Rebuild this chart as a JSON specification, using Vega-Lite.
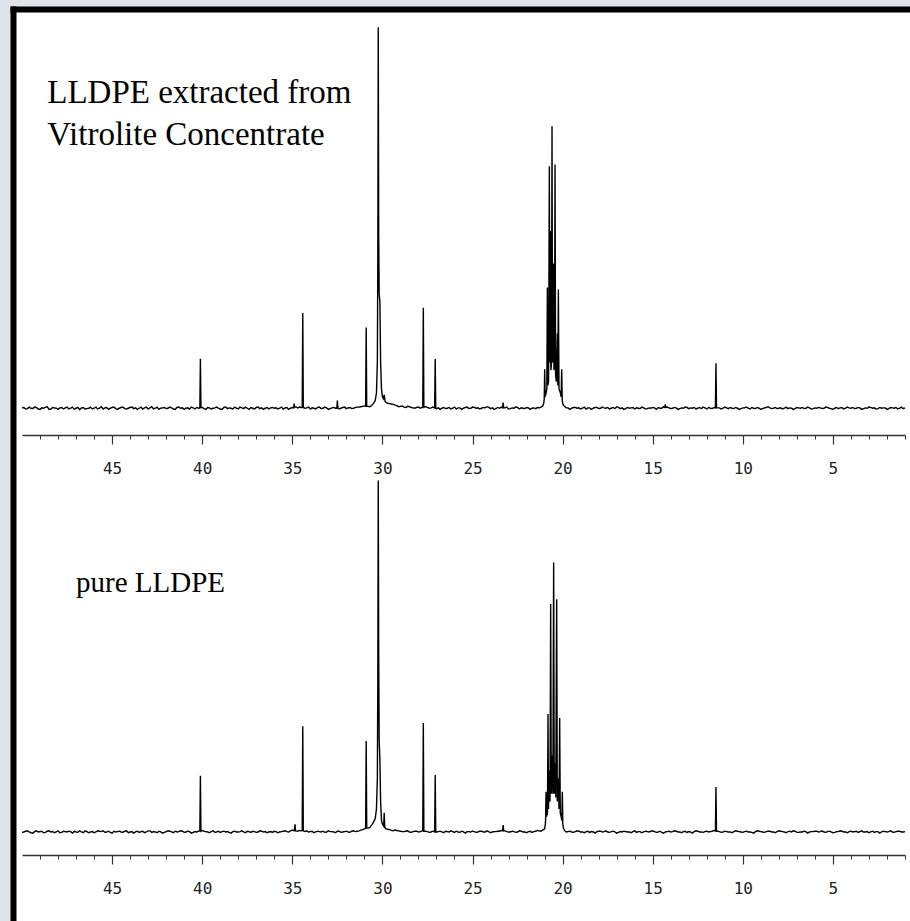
{
"$schema":"https://vega.github.io/schema/vega-lite/v6.json",
"width":897,"height":912,
"autosize":{"type":"none"},
"padding":{"left":13,"top":9,"right":0,"bottom":0},
"background":"#dde5ea",
"config":{"view":{"stroke":null,"fill":"white"},"axis":{"grid":false,"title":null}},
"datasets":{
"top":[{"x":50,"y":0.1},{"x":49.8,"y":-0.2},{"x":49.6,"y":0.3},{"x":49.4,"y":-0.1},{"x":49.2,"y":0.2},{"x":49,"y":-0.3},{"x":48.8,"y":0},{"x":48.6,"y":0.4},{"x":48.4,"y":-0.2},{"x":48.2,"y":0.1},
{"x":48,"y":-0.3},{"x":47.8,"y":0.2},{"x":47.6,"y":0.1},{"x":47.4,"y":-0.2},{"x":47.2,"y":0.3},{"x":47,"y":0},{"x":46.8,"y":-0.4},{"x":46.6,"y":0.2},{"x":46.4,"y":-0.1},{"x":46.2,"y":0.3},
{"x":46,"y":0},{"x":45.8,"y":-0.2},{"x":45.6,"y":0.4},{"x":45.4,"y":0.1},{"x":45.2,"y":-0.3},{"x":45,"y":0.2},{"x":44.8,"y":-0.1},{"x":44.6,"y":0},{"x":44.4,"y":0.3},{"x":44.2,"y":-0.2},
{"x":44,"y":0.2},{"x":43.8,"y":-0.1},{"x":43.6,"y":-0.3},{"x":43.4,"y":0.3},{"x":43.2,"y":0.1},{"x":43,"y":-0.2},{"x":42.8,"y":0.4},{"x":42.6,"y":0},{"x":42.4,"y":-0.3},{"x":42.2,"y":0.1},
{"x":42,"y":-0.1},{"x":41.8,"y":0.3},{"x":41.6,"y":-0.2},{"x":41.4,"y":0.2},{"x":41.2,"y":0},{"x":41,"y":-0.3},{"x":40.8,"y":0.1},{"x":40.6,"y":0.3},{"x":40.4,"y":-0.2},{"x":40.2,"y":0},
{"x":40.13,"y":0.1},{"x":40.1,"y":13},{"x":40.07,"y":0.2},
{"x":40,"y":0.2},{"x":39.8,"y":-0.3},{"x":39.6,"y":0.1},{"x":39.4,"y":0},{"x":39.2,"y":0.3},{"x":39,"y":-0.2},{"x":38.8,"y":0.2},{"x":38.6,"y":-0.1},{"x":38.4,"y":0},{"x":38.2,"y":0.3},
{"x":38,"y":-0.2},{"x":37.8,"y":0.1},{"x":37.6,"y":0.3},{"x":37.4,"y":-0.3},{"x":37.2,"y":0},{"x":37,"y":0.2},{"x":36.8,"y":-0.1},{"x":36.6,"y":-0.3},{"x":36.4,"y":0.2},{"x":36.2,"y":0.1},
{"x":36,"y":0},{"x":35.8,"y":-0.2},{"x":35.6,"y":0.3},{"x":35.4,"y":0.1},{"x":35.2,"y":-0.3},{"x":35,"y":0.2},{"x":34.93,"y":0.1},{"x":34.9,"y":1.2},{"x":34.87,"y":0.2},{"x":34.8,"y":0.4},{"x":34.6,"y":0.3},{"x":34.45,"y":0.2},{"x":34.42,"y":25},{"x":34.39,"y":0.2},{"x":34.2,"y":0.1},
{"x":34,"y":-0.2},{"x":33.8,"y":0},{"x":33.6,"y":0.2},{"x":33.4,"y":-0.1},{"x":33.2,"y":0.3},{"x":33,"y":-0.3},{"x":32.8,"y":0.1},{"x":32.6,"y":0},{"x":32.53,"y":0},{"x":32.5,"y":2},{"x":32.47,"y":0.1},{"x":32.4,"y":-0.2},{"x":32.2,"y":0.2},
{"x":32,"y":-0.1},{"x":31.8,"y":0.2},{"x":31.6,"y":0},{"x":31.4,"y":0.3},{"x":31.2,"y":0.4},{"x":31,"y":0.6},{"x":30.93,"y":0.5},{"x":30.9,"y":21.2},{"x":30.87,"y":0.5},{"x":30.8,"y":0.5},
{"x":30.7,"y":0.4},{"x":30.6,"y":0.7},{"x":30.5,"y":1.2},{"x":30.4,"y":2},{"x":30.33,"y":4},{"x":30.28,"y":12},{"x":30.255,"y":40},{"x":30.23,"y":100},{"x":30.205,"y":45},{"x":30.18,"y":30},{"x":30.14,"y":28},{"x":30.1,"y":12},{"x":30.05,"y":5},{"x":30,"y":3},{"x":29.95,"y":2.5},{"x":29.9,"y":3.5},{"x":29.85,"y":1.8},{"x":29.8,"y":1.5},{"x":29.6,"y":1.2},{"x":29.4,"y":1},{"x":29.2,"y":0.7},{"x":29,"y":0.5},
{"x":28.8,"y":0.3},{"x":28.6,"y":0.5},{"x":28.4,"y":0.2},{"x":28.2,"y":0},{"x":28,"y":0.3},{"x":27.8,"y":0.2},{"x":27.76,"y":0.2},{"x":27.73,"y":26.4},{"x":27.7,"y":0.3},{"x":27.6,"y":0.4},{"x":27.4,"y":0},{"x":27.2,"y":0.3},{"x":27.1,"y":0.1},{"x":27.07,"y":12.9},{"x":27.04,"y":0.1},{"x":27,"y":-0.1},
{"x":26.8,"y":-0.3},{"x":26.6,"y":0.2},{"x":26.4,"y":0},{"x":26.2,"y":-0.2},{"x":26,"y":0.3},{"x":25.8,"y":0.1},{"x":25.6,"y":-0.3},{"x":25.4,"y":0.2},{"x":25.2,"y":-0.1},{"x":25,"y":0.3},
{"x":24.8,"y":0},{"x":24.6,"y":-0.2},{"x":24.4,"y":0.2},{"x":24.2,"y":0.4},{"x":24,"y":-0.1},{"x":23.8,"y":-0.3},{"x":23.6,"y":0.2},{"x":23.4,"y":0.3},{"x":23.33,"y":0.1},{"x":23.3,"y":1.5},{"x":23.27,"y":0.1},{"x":23.2,"y":0.1},{"x":23,"y":-0.2},
{"x":22.8,"y":0.1},{"x":22.6,"y":0.3},{"x":22.4,"y":-0.2},{"x":22.2,"y":0},{"x":22,"y":0.2},{"x":21.8,"y":-0.3},{"x":21.6,"y":0.1},{"x":21.4,"y":0.2},
{"x":21.2,"y":0.3},{"x":21.1,"y":0.6},{"x":21.04,"y":1.5},{"x":21.02,"y":2.5},{"x":20.995,"y":10.2},{"x":20.97,"y":3},{"x":20.92,"y":4},{"x":20.875,"y":5},{"x":20.847,"y":31.7},{"x":20.82,"y":6},{"x":20.78,"y":7},{"x":20.736,"y":63.5},{"x":20.71,"y":12},{"x":20.68,"y":46.5},{"x":20.65,"y":10},{"x":20.615,"y":12},{"x":20.588,"y":74},{"x":20.56,"y":12},{"x":20.514,"y":38},{"x":20.48,"y":10},{"x":20.45,"y":12},{"x":20.421,"y":64},{"x":20.39,"y":9},{"x":20.35,"y":7},{"x":20.29,"y":19.6},{"x":20.265,"y":6},{"x":20.236,"y":31.2},{"x":20.2,"y":5},{"x":20.12,"y":4},{"x":20.08,"y":3},{"x":20.051,"y":10.2},{"x":20.02,"y":2},{"x":19.98,"y":1},{"x":19.9,"y":0.5},{"x":19.8,"y":0.1},
{"x":19.6,"y":-0.3},{"x":19.4,"y":0.2},{"x":19.2,"y":0},{"x":19,"y":-0.2},{"x":18.8,"y":0.3},{"x":18.6,"y":0.1},{"x":18.4,"y":-0.3},{"x":18.2,"y":0.2},{"x":18,"y":-0.1},
{"x":17.8,"y":0.3},{"x":17.6,"y":0},{"x":17.4,"y":-0.2},{"x":17.2,"y":0.2},{"x":17,"y":0.4},{"x":16.8,"y":-0.1},{"x":16.6,"y":-0.3},{"x":16.4,"y":0.2},{"x":16.2,"y":0.1},{"x":16,"y":-0.2},
{"x":15.8,"y":0},{"x":15.6,"y":0.3},{"x":15.4,"y":-0.2},{"x":15.2,"y":0.1},{"x":15,"y":0.2},{"x":14.8,"y":-0.3},{"x":14.6,"y":0},{"x":14.4,"y":0.4},{"x":14.33,"y":0.2},{"x":14.3,"y":1},{"x":14.27,"y":0.2},{"x":14.2,"y":0.3},{"x":14,"y":-0.1},
{"x":13.8,"y":0.2},{"x":13.6,"y":-0.3},{"x":13.4,"y":0.1},{"x":13.2,"y":0.3},{"x":13,"y":-0.1},{"x":12.8,"y":0},{"x":12.6,"y":-0.2},{"x":12.4,"y":0.2},{"x":12.2,"y":0.3},{"x":12,"y":-0.2},
{"x":11.8,"y":0},{"x":11.6,"y":0.2},{"x":11.52,"y":0.1},{"x":11.49,"y":11.8},{"x":11.46,"y":0.1},{"x":11.4,"y":0.1},{"x":11.2,"y":-0.2},{"x":11,"y":0.3},{"x":10.8,"y":-0.1},{"x":10.6,"y":0},{"x":10.4,"y":0.2},{"x":10.2,"y":-0.3},{"x":10,"y":0.1},
{"x":9.8,"y":0.3},{"x":9.6,"y":-0.2},{"x":9.4,"y":0},{"x":9.2,"y":0.2},{"x":9,"y":-0.3},{"x":8.8,"y":0.1},{"x":8.6,"y":0.4},{"x":8.4,"y":-0.1},{"x":8.2,"y":0.2},{"x":8,"y":0},
{"x":7.8,"y":-0.2},{"x":7.6,"y":0.3},{"x":7.4,"y":0.1},{"x":7.2,"y":-0.3},{"x":7,"y":0.2},{"x":6.8,"y":0},{"x":6.6,"y":-0.1},{"x":6.4,"y":0.3},{"x":6.2,"y":-0.2},{"x":6,"y":0.1},
{"x":5.8,"y":0.2},{"x":5.6,"y":-0.1},{"x":5.4,"y":0.3},{"x":5.2,"y":0},{"x":5,"y":-0.3},{"x":4.8,"y":0.2},{"x":4.6,"y":0.1},{"x":4.4,"y":-0.2},{"x":4.2,"y":0.3},{"x":4,"y":0},
{"x":3.8,"y":-0.1},{"x":3.6,"y":0.2},{"x":3.4,"y":-0.3},{"x":3.2,"y":0.1},{"x":3,"y":0.3},{"x":2.8,"y":0},{"x":2.6,"y":-0.2},{"x":2.4,"y":0.2},{"x":2.2,"y":0.1},{"x":2,"y":-0.3},
{"x":1.8,"y":0.2},{"x":1.6,"y":0},{"x":1.4,"y":-0.2},{"x":1.2,"y":0.3},{"x":1,"y":0.1},
{"x":49.9,"y":0.2},{"x":49.7,"y":-0.1},{"x":49.5,"y":0},{"x":49.3,"y":0.3},{"x":49.1,"y":-0.2},{"x":48.9,"y":0.1},{"x":48.7,"y":0.3},{"x":48.5,"y":-0.3},{"x":48.3,"y":0.2},{"x":48.1,"y":0},
{"x":47.9,"y":0.1},{"x":47.7,"y":-0.2},{"x":47.5,"y":0.3},{"x":47.3,"y":0},{"x":47.1,"y":-0.3},{"x":46.9,"y":0.2},{"x":46.7,"y":0.1},{"x":46.5,"y":-0.2},{"x":46.3,"y":0},{"x":46.1,"y":-0.2},
{"x":45.9,"y":0.3},{"x":45.7,"y":0},{"x":45.5,"y":-0.2},{"x":45.3,"y":0.2},{"x":45.1,"y":0},{"x":44.9,"y":0.3},{"x":44.7,"y":-0.3},{"x":44.5,"y":0.2},{"x":44.3,"y":-0.1},{"x":44.1,"y":0},
{"x":43.9,"y":0.3},{"x":43.7,"y":0.1},{"x":43.5,"y":0},{"x":43.3,"y":-0.2},{"x":43.1,"y":0.3},{"x":42.9,"y":0.1},{"x":42.7,"y":-0.2},{"x":42.5,"y":0.3},{"x":42.3,"y":0},{"x":42.1,"y":0.2},
{"x":41.9,"y":0},{"x":41.7,"y":0.1},{"x":41.5,"y":-0.3},{"x":41.3,"y":0.3},{"x":41.1,"y":0.1},{"x":40.9,"y":0},{"x":40.7,"y":-0.2},{"x":40.5,"y":0.1},{"x":40.3,"y":0.2},
{"x":39.9,"y":-0.1},{"x":39.7,"y":0.2},{"x":39.5,"y":-0.2},{"x":39.3,"y":0.1},{"x":39.1,"y":0},{"x":38.9,"y":-0.3},{"x":38.7,"y":0.3},{"x":38.5,"y":0.1},{"x":38.3,"y":-0.2},{"x":38.1,"y":0},
{"x":37.9,"y":0.3},{"x":37.7,"y":-0.1},{"x":37.5,"y":0},{"x":37.3,"y":0.2},{"x":37.1,"y":-0.2},{"x":36.9,"y":0.3},{"x":36.7,"y":0.1},{"x":36.5,"y":0},{"x":36.3,"y":-0.2},{"x":36.1,"y":0.2},
{"x":35.9,"y":0.1},{"x":35.7,"y":0},{"x":35.5,"y":-0.2},{"x":35.3,"y":0.2},{"x":35.1,"y":0},{"x":34.7,"y":0.1},{"x":34.5,"y":0.2},{"x":34.3,"y":0},{"x":34.1,"y":0.3},
{"x":33.9,"y":0.1},{"x":33.7,"y":-0.2},{"x":33.5,"y":0.3},{"x":33.3,"y":0},{"x":33.1,"y":0.1},{"x":32.9,"y":-0.1},{"x":32.7,"y":0.2},{"x":32.3,"y":0},{"x":32.1,"y":0.3},
{"x":31.9,"y":0.1},{"x":31.7,"y":-0.1},{"x":31.5,"y":0.2},{"x":31.3,"y":0.3},{"x":31.1,"y":0.5},
{"x":29.7,"y":1.3},{"x":29.5,"y":1.1},{"x":29.3,"y":0.8},{"x":29.1,"y":0.4},
{"x":28.9,"y":0.6},{"x":28.7,"y":0.2},{"x":28.5,"y":0.4},{"x":28.3,"y":0.1},{"x":28.1,"y":0.2},{"x":27.9,"y":0},{"x":27.5,"y":0.2},{"x":27.3,"y":0.1},
{"x":26.9,"y":0.1},{"x":26.7,"y":0},{"x":26.5,"y":-0.1},{"x":26.3,"y":0.2},{"x":26.1,"y":0},{"x":25.9,"y":-0.2},{"x":25.7,"y":0.1},{"x":25.5,"y":0},{"x":25.3,"y":0.3},{"x":25.1,"y":0},
{"x":24.9,"y":0.2},{"x":24.7,"y":0.1},{"x":24.5,"y":0},{"x":24.3,"y":0.1},{"x":24.1,"y":0.2},{"x":23.9,"y":0.1},{"x":23.7,"y":-0.1},{"x":23.5,"y":0},{"x":23.1,"y":0.3},
{"x":22.9,"y":-0.1},{"x":22.7,"y":0},{"x":22.5,"y":0.2},{"x":22.3,"y":0.1},{"x":22.1,"y":-0.1},{"x":21.9,"y":0.1},{"x":21.7,"y":0},{"x":21.5,"y":-0.1},{"x":21.3,"y":0.1},
{"x":19.7,"y":0.1},{"x":19.5,"y":0},{"x":19.3,"y":0.2},{"x":19.1,"y":0.1},{"x":18.9,"y":0},{"x":18.7,"y":-0.2},{"x":18.5,"y":0.1},{"x":18.3,"y":0},{"x":18.1,"y":0.2},
{"x":17.9,"y":0},{"x":17.7,"y":0.1},{"x":17.5,"y":0.2},{"x":17.3,"y":0},{"x":17.1,"y":-0.1},{"x":16.9,"y":0.2},{"x":16.7,"y":0.1},{"x":16.5,"y":-0.1},{"x":16.3,"y":0},{"x":16.1,"y":0.2},
{"x":15.9,"y":0.1},{"x":15.7,"y":-0.1},{"x":15.5,"y":0.1},{"x":15.3,"y":-0.1},{"x":15.1,"y":0},{"x":14.9,"y":0.1},{"x":14.7,"y":0.2},{"x":14.5,"y":0},{"x":14.1,"y":0.1},
{"x":13.9,"y":0},{"x":13.7,"y":0.1},{"x":13.5,"y":-0.1},{"x":13.3,"y":0},{"x":13.1,"y":0.2},{"x":12.9,"y":0.1},{"x":12.7,"y":0.2},{"x":12.5,"y":0},{"x":12.3,"y":-0.1},{"x":12.1,"y":0.1},
{"x":11.9,"y":0.2},{"x":11.7,"y":-0.1},{"x":11.3,"y":0.1},{"x":11.1,"y":0},{"x":10.9,"y":0.1},{"x":10.7,"y":0.2},{"x":10.5,"y":-0.1},{"x":10.3,"y":0},{"x":10.1,"y":-0.1},
{"x":9.9,"y":0.1},{"x":9.7,"y":0},{"x":9.5,"y":0.2},{"x":9.3,"y":-0.1},{"x":9.1,"y":0},{"x":8.9,"y":-0.1},{"x":8.7,"y":0.2},{"x":8.5,"y":0.1},{"x":8.3,"y":0},{"x":8.1,"y":-0.1},
{"x":7.9,"y":0.1},{"x":7.7,"y":0},{"x":7.5,"y":-0.1},{"x":7.3,"y":0},{"x":7.1,"y":-0.1},{"x":6.9,"y":0.1},{"x":6.7,"y":0.2},{"x":6.5,"y":0},{"x":6.3,"y":0.1},{"x":6.1,"y":-0.1},
{"x":5.9,"y":0},{"x":5.7,"y":0.1},{"x":5.5,"y":0},{"x":5.3,"y":0.2},{"x":5.1,"y":-0.1},{"x":4.9,"y":0},{"x":4.7,"y":-0.1},{"x":4.5,"y":0.2},{"x":4.3,"y":0},{"x":4.1,"y":0.1},
{"x":3.9,"y":0.2},{"x":3.7,"y":0},{"x":3.5,"y":0.1},{"x":3.3,"y":-0.1},{"x":3.1,"y":0},{"x":2.9,"y":0.2},{"x":2.7,"y":0.1},{"x":2.5,"y":-0.1},{"x":2.3,"y":0},{"x":2.1,"y":0.1},
{"x":1.9,"y":-0.1},{"x":1.7,"y":0.1},{"x":1.5,"y":0.2},{"x":1.3,"y":0},{"x":1.1,"y":-0.1}],
"bot":[{"x":50,"y":-0.1},{"x":49.8,"y":0.2},{"x":49.6,"y":0},{"x":49.4,"y":-0.3},{"x":49.2,"y":0.3},{"x":49,"y":0.1},{"x":48.8,"y":-0.2},{"x":48.6,"y":0.2},{"x":48.4,"y":0},{"x":48.2,"y":-0.2},
{"x":48,"y":0.3},{"x":47.8,"y":-0.1},{"x":47.6,"y":0.1},{"x":47.4,"y":0.2},{"x":47.2,"y":-0.3},{"x":47,"y":0},{"x":46.8,"y":0.3},{"x":46.6,"y":-0.2},{"x":46.4,"y":0.1},{"x":46.2,"y":0},
{"x":46,"y":-0.2},{"x":45.8,"y":0.3},{"x":45.6,"y":0.1},{"x":45.4,"y":-0.1},{"x":45.2,"y":0.2},{"x":45,"y":-0.3},{"x":44.8,"y":0},{"x":44.6,"y":0.2},{"x":44.4,"y":-0.1},{"x":44.2,"y":0.3},
{"x":44,"y":0},{"x":43.8,"y":-0.3},{"x":43.6,"y":0.2},{"x":43.4,"y":0.1},{"x":43.2,"y":-0.2},{"x":43,"y":0.3},{"x":42.8,"y":-0.1},{"x":42.6,"y":0},{"x":42.4,"y":0.2},{"x":42.2,"y":-0.3},
{"x":42,"y":0.1},{"x":41.8,"y":0.2},{"x":41.6,"y":-0.2},{"x":41.4,"y":0},{"x":41.2,"y":0.3},{"x":41,"y":-0.1},{"x":40.8,"y":0.2},{"x":40.6,"y":-0.3},{"x":40.4,"y":0.1},{"x":40.2,"y":0.2},
{"x":40.13,"y":0.3},{"x":40.1,"y":14.7},{"x":40.07,"y":0.2},
{"x":40,"y":0.4},{"x":39.8,"y":0.1},{"x":39.6,"y":-0.2},{"x":39.4,"y":0.3},{"x":39.2,"y":0},{"x":39,"y":-0.1},{"x":38.8,"y":0.2},{"x":38.6,"y":0.1},{"x":38.4,"y":-0.3},{"x":38.2,"y":0.2},
{"x":38,"y":0},{"x":37.8,"y":0.3},{"x":37.6,"y":-0.2},{"x":37.4,"y":0.1},{"x":37.2,"y":0.2},{"x":37,"y":-0.1},{"x":36.8,"y":0.3},{"x":36.6,"y":0},{"x":36.4,"y":-0.2},{"x":36.2,"y":0.1},
{"x":36,"y":0.2},{"x":35.8,"y":-0.2},{"x":35.6,"y":0.1},{"x":35.4,"y":0.3},{"x":35.2,"y":0},{"x":35,"y":0.5},{"x":34.88,"y":0.3},{"x":34.85,"y":2},{"x":34.82,"y":0.3},{"x":34.79,"y":0.3},{"x":34.6,"y":0.4},{"x":34.45,"y":0.4},{"x":34.42,"y":27.7},{"x":34.39,"y":0.3},{"x":34.2,"y":0.3},
{"x":34,"y":0.1},{"x":33.8,"y":-0.2},{"x":33.6,"y":0.2},{"x":33.4,"y":0},{"x":33.2,"y":-0.1},{"x":33,"y":0.3},{"x":32.8,"y":0.1},{"x":32.6,"y":-0.2},{"x":32.4,"y":0.2},{"x":32.2,"y":0},
{"x":32,"y":0.2},{"x":31.8,"y":-0.1},{"x":31.6,"y":0.3},{"x":31.4,"y":0.2},{"x":31.2,"y":0.5},{"x":31,"y":0.8},{"x":30.93,"y":0.9},{"x":30.9,"y":23.8},{"x":30.87,"y":1},{"x":30.8,"y":1},
{"x":30.7,"y":1.2},{"x":30.6,"y":1.8},{"x":30.5,"y":2.5},{"x":30.4,"y":3.5},{"x":30.33,"y":6},{"x":30.28,"y":14},{"x":30.255,"y":40},{"x":30.23,"y":92},{"x":30.205,"y":45},{"x":30.18,"y":24},{"x":30.14,"y":19},{"x":30.1,"y":8},{"x":30.05,"y":3},{"x":30,"y":2},{"x":29.93,"y":1.5},{"x":29.9,"y":5},{"x":29.87,"y":1.2},{"x":29.8,"y":0.8},{"x":29.6,"y":0.6},{"x":29.4,"y":0.3},{"x":29.2,"y":0.4},{"x":29,"y":0.2},
{"x":28.8,"y":0.1},{"x":28.6,"y":0.3},{"x":28.4,"y":-0.1},{"x":28.2,"y":0.2},{"x":28,"y":0},{"x":27.8,"y":0.3},{"x":27.76,"y":0.3},{"x":27.73,"y":28.5},{"x":27.7,"y":0.2},{"x":27.6,"y":0.2},{"x":27.4,"y":-0.1},{"x":27.2,"y":0.2},{"x":27.1,"y":0},{"x":27.07,"y":14.9},{"x":27.04,"y":0},{"x":27,"y":0},
{"x":26.8,"y":0.2},{"x":26.6,"y":-0.2},{"x":26.4,"y":0.1},{"x":26.2,"y":0.3},{"x":26,"y":-0.1},{"x":25.8,"y":0},{"x":25.6,"y":0.2},{"x":25.4,"y":-0.3},{"x":25.2,"y":0.1},{"x":25,"y":0.2},
{"x":24.8,"y":-0.1},{"x":24.6,"y":0.2},{"x":24.4,"y":0},{"x":24.2,"y":0.3},{"x":24,"y":-0.2},{"x":23.8,"y":0.1},{"x":23.6,"y":0.2},{"x":23.4,"y":0.4},{"x":23.33,"y":0.3},{"x":23.3,"y":1.8},{"x":23.27,"y":0.3},{"x":23.2,"y":0.3},{"x":23,"y":0},
{"x":22.8,"y":0.2},{"x":22.6,"y":-0.1},{"x":22.4,"y":0.3},{"x":22.2,"y":0},{"x":22,"y":-0.2},{"x":21.8,"y":0.2},{"x":21.6,"y":0.1},{"x":21.4,"y":0.4},
{"x":21.2,"y":0.2},{"x":21,"y":0.8},{"x":20.96,"y":2},{"x":20.945,"y":3},{"x":20.92,"y":10.5},{"x":20.895,"y":4},{"x":20.84,"y":5},{"x":20.81,"y":30.9},{"x":20.785,"y":6},{"x":20.74,"y":16},{"x":20.7,"y":8},{"x":20.663,"y":59.7},{"x":20.63,"y":10},{"x":20.58,"y":20},{"x":20.54,"y":10},{"x":20.497,"y":70.5},{"x":20.465,"y":10},{"x":20.42,"y":18},{"x":20.38,"y":9},{"x":20.33,"y":60.9},{"x":20.295,"y":8},{"x":20.24,"y":14},{"x":20.2,"y":6},{"x":20.163,"y":29.8},{"x":20.13,"y":5},{"x":20.08,"y":4},{"x":20.045,"y":3},{"x":20.015,"y":10.5},{"x":19.99,"y":2},{"x":19.95,"y":1},{"x":19.9,"y":0.4},{"x":19.8,"y":0},
{"x":19.6,"y":0.2},{"x":19.4,"y":-0.1},{"x":19.2,"y":0.3},{"x":19,"y":0},{"x":18.8,"y":-0.2},{"x":18.6,"y":0.2},{"x":18.4,"y":0.1},{"x":18.2,"y":-0.3},{"x":18,"y":0.2},
{"x":17.8,"y":0},{"x":17.6,"y":0.3},{"x":17.4,"y":-0.1},{"x":17.2,"y":0.2},{"x":17,"y":-0.3},{"x":16.8,"y":0.1},{"x":16.6,"y":0.2},{"x":16.4,"y":0},{"x":16.2,"y":-0.2},{"x":16,"y":0.3},
{"x":15.8,"y":0.1},{"x":15.6,"y":-0.2},{"x":15.4,"y":0.2},{"x":15.2,"y":0},{"x":15,"y":0.3},{"x":14.8,"y":-0.1},{"x":14.6,"y":0.2},{"x":14.4,"y":-0.3},{"x":14.2,"y":0.1},{"x":14,"y":0},
{"x":13.8,"y":0.3},{"x":13.6,"y":0},{"x":13.4,"y":-0.2},{"x":13.2,"y":0.2},{"x":13,"y":0.1},{"x":12.8,"y":-0.3},{"x":12.6,"y":0.3},{"x":12.4,"y":0},{"x":12.2,"y":-0.1},{"x":12,"y":0.2},
{"x":11.8,"y":0.1},{"x":11.6,"y":0.4},{"x":11.52,"y":0.2},{"x":11.49,"y":11.8},{"x":11.46,"y":0.2},{"x":11.4,"y":0.2},{"x":11.2,"y":-0.1},{"x":11,"y":0.2},{"x":10.8,"y":0},{"x":10.6,"y":-0.2},{"x":10.4,"y":0.3},{"x":10.2,"y":0.1},{"x":10,"y":-0.1},
{"x":9.8,"y":0.2},{"x":9.6,"y":0},{"x":9.4,"y":-0.3},{"x":9.2,"y":0.3},{"x":9,"y":0.1},{"x":8.8,"y":-0.1},{"x":8.6,"y":0.2},{"x":8.4,"y":0},{"x":8.2,"y":-0.2},{"x":8,"y":0.3},
{"x":7.8,"y":0.1},{"x":7.6,"y":-0.2},{"x":7.4,"y":0.2},{"x":7.2,"y":0.3},{"x":7,"y":-0.1},{"x":6.8,"y":0},{"x":6.6,"y":0.2},{"x":6.4,"y":-0.3},{"x":6.2,"y":0.1},{"x":6,"y":0.2},
{"x":5.8,"y":0},{"x":5.6,"y":0.3},{"x":5.4,"y":-0.1},{"x":5.2,"y":0.2},{"x":5,"y":-0.2},{"x":4.8,"y":0.1},{"x":4.6,"y":0.3},{"x":4.4,"y":0},{"x":4.2,"y":-0.2},{"x":4,"y":0.2},
{"x":3.8,"y":0.1},{"x":3.6,"y":-0.1},{"x":3.4,"y":0.3},{"x":3.2,"y":0},{"x":3,"y":-0.2},{"x":2.8,"y":0.2},{"x":2.6,"y":0.1},{"x":2.4,"y":-0.3},{"x":2.2,"y":0.2},{"x":2,"y":0},
{"x":1.8,"y":0.3},{"x":1.6,"y":-0.1},{"x":1.4,"y":0.2},{"x":1.2,"y":0},{"x":1,"y":0.1},
{"x":49.9,"y":0},{"x":49.7,"y":0.3},{"x":49.5,"y":-0.2},{"x":49.3,"y":0.1},{"x":49.1,"y":0},{"x":48.9,"y":0.2},{"x":48.7,"y":-0.1},{"x":48.5,"y":0.3},{"x":48.3,"y":0.1},{"x":48.1,"y":0},
{"x":47.9,"y":-0.2},{"x":47.7,"y":0.2},{"x":47.5,"y":0},{"x":47.3,"y":0.1},{"x":47.1,"y":0.2},{"x":46.9,"y":-0.1},{"x":46.7,"y":0},{"x":46.5,"y":0.3},{"x":46.3,"y":-0.2},{"x":46.1,"y":0.1},
{"x":45.9,"y":0},{"x":45.7,"y":0.2},{"x":45.5,"y":0.3},{"x":45.3,"y":0},{"x":45.1,"y":-0.1},{"x":44.9,"y":0.2},{"x":44.7,"y":0.1},{"x":44.5,"y":0},{"x":44.3,"y":0.2},{"x":44.1,"y":-0.2},
{"x":43.9,"y":0.1},{"x":43.7,"y":0},{"x":43.5,"y":-0.1},{"x":43.3,"y":0.2},{"x":43.1,"y":0},{"x":42.9,"y":0.3},{"x":42.7,"y":0.1},{"x":42.5,"y":-0.2},{"x":42.3,"y":0},{"x":42.1,"y":-0.1},
{"x":41.9,"y":0.3},{"x":41.7,"y":0},{"x":41.5,"y":0.2},{"x":41.3,"y":0.1},{"x":41.1,"y":0.2},{"x":40.9,"y":0},{"x":40.7,"y":0.1},{"x":40.5,"y":-0.1},{"x":40.3,"y":0},
{"x":39.9,"y":0.2},{"x":39.7,"y":0},{"x":39.5,"y":0.1},{"x":39.3,"y":-0.1},{"x":39.1,"y":0.2},{"x":38.9,"y":0.1},{"x":38.7,"y":0},{"x":38.5,"y":-0.1},{"x":38.3,"y":0.1},{"x":38.1,"y":0},
{"x":37.9,"y":0.1},{"x":37.7,"y":0},{"x":37.5,"y":0.2},{"x":37.3,"y":-0.1},{"x":37.1,"y":0.1},{"x":36.9,"y":0},{"x":36.7,"y":0.2},{"x":36.5,"y":0.1},{"x":36.3,"y":0},{"x":36.1,"y":-0.1},
{"x":35.9,"y":0.1},{"x":35.7,"y":0},{"x":35.5,"y":0.2},{"x":35.3,"y":0.1},{"x":35.1,"y":0.3},{"x":34.7,"y":0.2},{"x":34.5,"y":0.3},{"x":34.3,"y":0.1},{"x":34.1,"y":0},
{"x":33.9,"y":0.2},{"x":33.7,"y":0},{"x":33.5,"y":0.1},{"x":33.3,"y":0.2},{"x":33.1,"y":0},{"x":32.9,"y":0.1},{"x":32.7,"y":0},{"x":32.5,"y":0.2},{"x":32.3,"y":-0.1},{"x":32.1,"y":0.1},
{"x":31.9,"y":0},{"x":31.7,"y":0.2},{"x":31.5,"y":0.1},{"x":31.3,"y":0.3},{"x":31.1,"y":0.6},
{"x":29.7,"y":0.7},{"x":29.5,"y":0.4},{"x":29.3,"y":0.5},{"x":29.1,"y":0.3},
{"x":28.9,"y":0.1},{"x":28.7,"y":0.2},{"x":28.5,"y":0},{"x":28.3,"y":0.1},{"x":28.1,"y":0.2},{"x":27.9,"y":0.1},{"x":27.5,"y":0.1},{"x":27.3,"y":0},
{"x":26.9,"y":0.1},{"x":26.7,"y":0},{"x":26.5,"y":0.2},{"x":26.3,"y":0},{"x":26.1,"y":0.1},{"x":25.9,"y":0.2},{"x":25.7,"y":-0.1},{"x":25.5,"y":0},{"x":25.3,"y":0.1},{"x":25.1,"y":0},
{"x":24.9,"y":0.1},{"x":24.7,"y":0},{"x":24.5,"y":0.2},{"x":24.3,"y":0},{"x":24.1,"y":0.1},{"x":23.9,"y":0},{"x":23.7,"y":0.1},{"x":23.5,"y":0.2},{"x":23.1,"y":0.1},
{"x":22.9,"y":0},{"x":22.7,"y":0.1},{"x":22.5,"y":0},{"x":22.3,"y":0.2},{"x":22.1,"y":0},{"x":21.9,"y":0.1},{"x":21.7,"y":-0.1},{"x":21.5,"y":0.2},{"x":21.3,"y":0.3},
{"x":19.7,"y":0.1},{"x":19.5,"y":0},{"x":19.3,"y":0.1},{"x":19.1,"y":0.2},{"x":18.9,"y":0},{"x":18.7,"y":0.1},{"x":18.5,"y":-0.1},{"x":18.3,"y":0},{"x":18.1,"y":0.1},
{"x":17.9,"y":0.2},{"x":17.7,"y":0.1},{"x":17.5,"y":0},{"x":17.3,"y":0.1},{"x":17.1,"y":0},{"x":16.9,"y":-0.1},{"x":16.7,"y":0},{"x":16.5,"y":0.1},{"x":16.3,"y":0},{"x":16.1,"y":0.1},
{"x":15.9,"y":-0.1},{"x":15.7,"y":0.1},{"x":15.5,"y":0},{"x":15.3,"y":0.1},{"x":15.1,"y":0.2},{"x":14.9,"y":0.1},{"x":14.7,"y":0},{"x":14.5,"y":-0.1},{"x":14.3,"y":0},{"x":14.1,"y":0.2},
{"x":13.9,"y":0.1},{"x":13.7,"y":0.2},{"x":13.5,"y":0},{"x":13.3,"y":0.1},{"x":13.1,"y":-0.1},{"x":12.9,"y":0},{"x":12.7,"y":0.1},{"x":12.5,"y":0.2},{"x":12.3,"y":0},{"x":12.1,"y":0.1},
{"x":11.9,"y":0},{"x":11.7,"y":0.2},{"x":11.3,"y":0.1},{"x":11.1,"y":0},{"x":10.9,"y":0.1},{"x":10.7,"y":0},{"x":10.5,"y":0.1},{"x":10.3,"y":0.2},{"x":10.1,"y":0},
{"x":9.9,"y":0.1},{"x":9.7,"y":0},{"x":9.5,"y":-0.1},{"x":9.3,"y":0.1},{"x":9.1,"y":0.2},{"x":8.9,"y":0},{"x":8.7,"y":0.1},{"x":8.5,"y":0.2},{"x":8.3,"y":0},{"x":8.1,"y":0.1},
{"x":7.9,"y":0.2},{"x":7.7,"y":0},{"x":7.5,"y":0.1},{"x":7.3,"y":0},{"x":7.1,"y":0.2},{"x":6.9,"y":-0.1},{"x":6.7,"y":0},{"x":6.5,"y":0.1},{"x":6.3,"y":0},{"x":6.1,"y":0.1},
{"x":5.9,"y":0.2},{"x":5.7,"y":0.1},{"x":5.5,"y":0},{"x":5.3,"y":0.1},{"x":5.1,"y":0},{"x":4.9,"y":-0.1},{"x":4.7,"y":0.1},{"x":4.5,"y":0.2},{"x":4.3,"y":0},{"x":4.1,"y":0.1},
{"x":3.9,"y":0},{"x":3.7,"y":0.2},{"x":3.5,"y":0.1},{"x":3.3,"y":0},{"x":3.1,"y":0.1},{"x":2.9,"y":0},{"x":2.7,"y":-0.1},{"x":2.5,"y":0.1},{"x":2.3,"y":0},{"x":2.1,"y":0.1},
{"x":1.9,"y":0.1},{"x":1.7,"y":0},{"x":1.5,"y":0.1},{"x":1.3,"y":0.2},{"x":1.1,"y":0}],
"tlab":[{"x":48.6,"y":80,"t":"LLDPE extracted from"},{"x":48.6,"y":69,"t":"Vitrolite Concentrate"}],
"blab":[{"x":47.0,"y":62.8,"t":"pure LLDPE"}]
},
"resolve":{"scale":{"x":"independent","y":"independent"},"axis":{"x":"independent","y":"independent"}},
"layer":[
{"data":{"name":"top"},
 "mark":{"type":"line","color":"black","strokeWidth":1.4},
 "encoding":{
  "x":{"field":"x","type":"quantitative","scale":{"domain":[50,1],"range":[9,892],"nice":false,"zero":false},
   "axis":{"orient":"bottom","offset":-486,"values":[5,10,15,20,25,30,35,40,45],"tickSize":9,"tickWidth":1.2,"tickColor":"#333","domainColor":"#333","domainWidth":1.5,"labelFont":"DejaVu Sans Mono","labelFontSize":16,"labelColor":"#222","labelPadding":16,"labelFlush":false,"labelOverlap":false,"grid":false,"title":null}},
  "y":{"field":"y","type":"quantitative","scale":{"domain":[-134.6,104.8],"nice":false,"zero":false},"axis":null},
  "order":{"field":"x","type":"quantitative"}}},
{"data":{"name":"tlab"},
 "mark":{"type":"text","font":"Liberation Serif","fontSize":33,"align":"left","baseline":"alphabetic","color":"black"},
 "encoding":{
  "x":{"field":"x","type":"quantitative","scale":{"domain":[50,1],"range":[9,892],"nice":false,"zero":false},
   "axis":{"orient":"bottom","offset":-486,"values":[1,2,3,4,5,6,7,8,9,10,11,12,13,14,15,16,17,18,19,20,21,22,23,24,25,26,27,28,29,30,31,32,33,34,35,36,37,38,39,40,41,42,43,44,45,46,47,48,49],"tickSize":4,"tickWidth":1,"tickColor":"#333","domain":false,"labels":false,"grid":false,"title":null}},
  "y":{"field":"y","type":"quantitative","scale":{"domain":[-134.6,104.8],"nice":false,"zero":false},"axis":null},
  "text":{"field":"t"}}},
{"data":{"name":"bot"},
 "mark":{"type":"line","color":"black","strokeWidth":1.4},
 "encoding":{
  "x":{"field":"x","type":"quantitative","scale":{"domain":[50,1],"range":[9,892],"nice":false,"zero":false},
   "axis":{"orient":"bottom","offset":-66,"values":[5,10,15,20,25,30,35,40,45],"tickSize":9,"tickWidth":1.2,"tickColor":"#333","domainColor":"#333","domainWidth":1.5,"labelFont":"DejaVu Sans Mono","labelFontSize":16,"labelColor":"#222","labelPadding":16,"labelFlush":false,"labelOverlap":false,"grid":false,"title":null}},
  "y":{"field":"y","type":"quantitative","scale":{"domain":[-23.3,215.4],"nice":false,"zero":false},"axis":null},
  "order":{"field":"x","type":"quantitative"}}},
{"data":{"name":"blab"},
 "mark":{"type":"text","font":"Liberation Serif","fontSize":29,"align":"left","baseline":"alphabetic","color":"black"},
 "encoding":{
  "x":{"field":"x","type":"quantitative","scale":{"domain":[50,1],"range":[9,892],"nice":false,"zero":false},
   "axis":{"orient":"bottom","offset":-66,"values":[1,2,3,4,5,6,7,8,9,10,11,12,13,14,15,16,17,18,19,20,21,22,23,24,25,26,27,28,29,30,31,32,33,34,35,36,37,38,39,40,41,42,43,44,45,46,47,48,49],"tickSize":4,"tickWidth":1,"tickColor":"#333","domain":false,"labels":false,"grid":false,"title":null}},
  "y":{"field":"y","type":"quantitative","scale":{"domain":[-23.3,215.4],"nice":false,"zero":false},"axis":null},
  "text":{"field":"t"}}},
{"data":{"name":"blab"},
 "mark":{"type":"point","opacity":0},
 "encoding":{
  "x":{"field":"x","type":"quantitative","scale":{"domain":[0,100],"nice":false,"zero":false},
   "axis":{"orient":"top","domain":true,"domainWidth":6,"domainColor":"black","domainCap":"square","ticks":false,"labels":false,"grid":false,"title":null,"zindex":1}},
  "y":{"field":"y","type":"quantitative","scale":{"domain":[0,100],"nice":false,"zero":false},
   "axis":{"orient":"left","domain":true,"domainWidth":6,"domainColor":"black","domainCap":"square","ticks":false,"labels":false,"grid":false,"title":null,"zindex":1}}}}
]
}
